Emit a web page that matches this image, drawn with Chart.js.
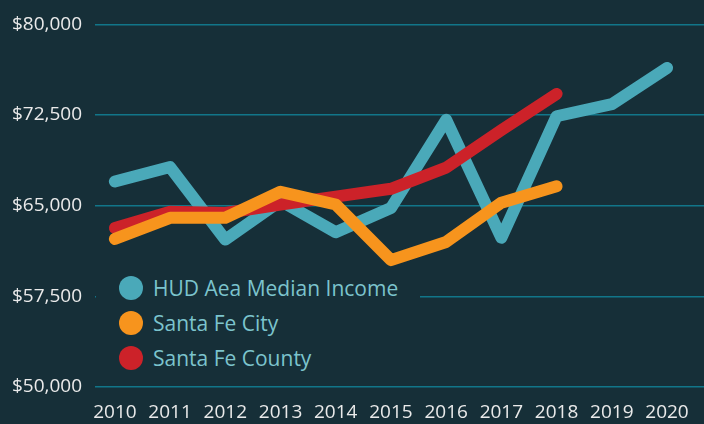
<!DOCTYPE html>
<html>
<head>
<meta charset="utf-8">
<script src="https://cdn.jsdelivr.net/npm/chart.js@4"></script>
<style>
  html, body { margin: 0; padding: 0; background: #162f38; }
  #wrap { position: relative; width: 704px; height: 424px; background: #162f38; }
  #legend {
    position: absolute; left: 96px; top: 270px; width: 324px; height: 104px;
    background: #162f38; font-family: "Open Sans", sans-serif; font-size: 21px; color: #7cc4cd;
  }
  .item { position: absolute; left: 23px; height: 26px; display: flex; align-items: center; }
  .dot { width: 24px; height: 24px; border-radius: 50%; margin-right: 10px; }
</style>
</head>
<body>
<div id="wrap">
  <canvas id="c" width="704" height="424"></canvas>
  <div id="legend"></div>
</div>
<script>
const years = [2010, 2011, 2012, 2013, 2014, 2015, 2016, 2017, 2018, 2019, 2020];
const hudValues = [67000, 68200, 62200, 65400, 62800, 64800, 72100, 62350, 72400, 73400, 76400];
const cityValues = [62250, 64000, 64000, 66150, 65100, 60500, 62000, 65250, 66600];
const countyValues = [63150, 64500, 64400, 65100, 65750, 66400, 68150, 71250, 74250];
const yTicks = [50000, 57500, 65000, 72500, 80000];
const seriesNames = ["HUD Aea Median Income", "Santa Fe City", "Santa Fe County"];
const seriesColors = ["#4aa9b9", "#f7941d", "#cc2229"];

const toPoints = vals => vals.map((v, i) => ({ x: years[i], y: v }));

const legend = document.getElementById('legend');
seriesNames.forEach((name, i) => {
  const d = document.createElement('div');
  d.className = 'item';
  d.style.top = (5 + i * 35) + 'px';
  d.innerHTML = '<span class="dot" style="background:' + seriesColors[i] + '"></span><span>' + name + '</span>';
  legend.appendChild(d);
});

const common = { borderWidth: 12, pointRadius: 0, tension: 0, borderCapStyle: 'round', borderJoinStyle: 'round', fill: false };

new Chart(document.getElementById('c'), {
  type: 'line',
  data: {
    datasets: [
      Object.assign({ label: seriesNames[0], data: toPoints(hudValues), borderColor: seriesColors[0], order: 3 }, common),
      Object.assign({ label: seriesNames[1], data: toPoints(cityValues), borderColor: seriesColors[1], order: 1 }, common),
      Object.assign({ label: seriesNames[2], data: toPoints(countyValues), borderColor: seriesColors[2], order: 2 }, common)
    ]
  },
  options: {
    responsive: false,
    animation: false,
    layout: { padding: { top: 20, right: 0, left: 0, bottom: 0 } },
    plugins: { legend: { display: false }, tooltip: { enabled: false } },
    scales: {
      x: {
        type: 'linear',
        min: 2009.64,
        max: 2020.67,
        afterBuildTicks: s => { s.ticks = years.map(v => ({ value: v })); },
        afterFit: s => { s.height = 37; },
        grid: { display: false, drawTicks: false },
        border: { display: false },
        ticks: {
          color: '#eaeaea',
          font: { family: 'Open Sans', size: 19 },
          padding: 14,
          maxRotation: 0,
          autoSkip: false,
          callback: v => String(v)
        }
      },
      y: {
        min: 50000,
        max: 80000,
        afterBuildTicks: s => { s.ticks = yTicks.map(v => ({ value: v })); },
        afterFit: s => { s.width = 95; },
        grid: { color: '#117689', lineWidth: 1.5, drawTicks: false },
        border: { display: false },
        ticks: {
          color: '#eaeaea',
          font: { family: 'Open Sans', size: 19 },
          padding: 13,
          callback: v => '$' + v.toLocaleString('en-US')
        }
      }
    }
  }
});
</script>
</body>
</html>
